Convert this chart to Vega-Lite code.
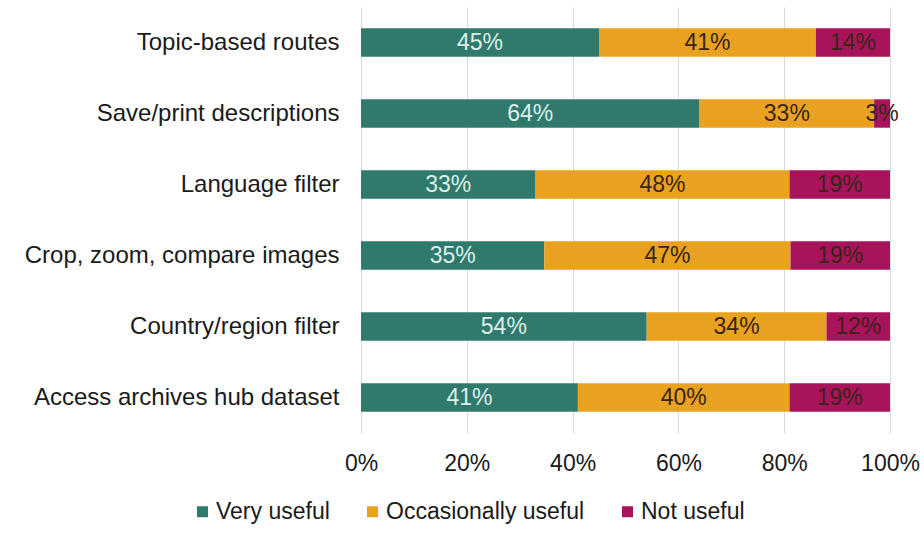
{
  "$schema": "https://vega.github.io/schema/vega-lite/v6.json",
  "autosize": {"type": "none"},
  "width": 529,
  "height": 426,
  "padding": {"left": 361, "top": 7, "right": 34, "bottom": 100},
  "background": "white",
  "config": {
    "view": {"stroke": null},
    "font": "Liberation Sans"
  },
  "data": {
    "values": [
      {"feature": "Topic-based routes", "status": "Very useful", "value": 45, "order": 1},
      {"feature": "Topic-based routes", "status": "Occasionally useful", "value": 41, "order": 2},
      {"feature": "Topic-based routes", "status": "Not useful", "value": 14, "order": 3},
      {"feature": "Save/print descriptions", "status": "Very useful", "value": 64, "order": 1},
      {"feature": "Save/print descriptions", "status": "Occasionally useful", "value": 33, "order": 2},
      {"feature": "Save/print descriptions", "status": "Not useful", "value": 3, "order": 3},
      {"feature": "Language filter", "status": "Very useful", "value": 33, "order": 1},
      {"feature": "Language filter", "status": "Occasionally useful", "value": 48, "order": 2},
      {"feature": "Language filter", "status": "Not useful", "value": 19, "order": 3},
      {"feature": "Crop, zoom, compare images", "status": "Very useful", "value": 35, "order": 1},
      {"feature": "Crop, zoom, compare images", "status": "Occasionally useful", "value": 47, "order": 2},
      {"feature": "Crop, zoom, compare images", "status": "Not useful", "value": 19, "order": 3},
      {"feature": "Country/region filter", "status": "Very useful", "value": 54, "order": 1},
      {"feature": "Country/region filter", "status": "Occasionally useful", "value": 34, "order": 2},
      {"feature": "Country/region filter", "status": "Not useful", "value": 12, "order": 3},
      {"feature": "Access archives hub dataset", "status": "Very useful", "value": 41, "order": 1},
      {"feature": "Access archives hub dataset", "status": "Occasionally useful", "value": 40, "order": 2},
      {"feature": "Access archives hub dataset", "status": "Not useful", "value": 19, "order": 3}
    ]
  },
  "transform": [
    {"stack": "value", "groupby": ["feature"], "sort": [{"field": "order"}], "offset": "normalize", "as": ["x0", "x1"]},
    {"calculate": "(datum.x0 + datum.x1) / 2", "as": "mid"},
    {"calculate": "datum.value + '%'", "as": "label"}
  ],
  "encoding": {
    "y": {
      "field": "feature",
      "type": "nominal",
      "sort": ["Topic-based routes", "Save/print descriptions", "Language filter", "Crop, zoom, compare images", "Country/region filter", "Access archives hub dataset"],
      "scale": {"paddingInner": 0.6, "paddingOuter": 0.3},
      "axis": {"title": null, "labelFontSize": 24, "labelLimit": 400, "labelColor": "#1a1a1a", "labelPadding": 22, "ticks": false, "domain": false, "grid": false}
    }
  },
  "layer": [
    {
      "mark": {"type": "bar"},
      "encoding": {
        "x": {
          "field": "x0", "type": "quantitative",
          "scale": {"domain": [0, 1], "nice": false},
          "axis": {"title": null, "format": "%", "values": [0, 0.2, 0.4, 0.6, 0.8, 1], "grid": true, "gridColor": "#d9d9d9", "gridWidth": 1, "domain": false, "ticks": false, "labelPadding": 19, "labelFontSize": 23, "labelColor": "#1a1a1a", "labelFlush": false}
        },
        "x2": {"field": "x1"},
        "color": {
          "field": "status", "type": "nominal",
          "scale": {"domain": ["Very useful", "Occasionally useful", "Not useful"], "range": ["#2f7a6d", "#e9a21f", "#a8145c"]},
          "legend": {
            "title": null, "orient": "none", "direction": "horizontal",
            "legendX": -170, "legendY": 493,
            "symbolType": "square", "symbolSize": 121, "symbolStrokeWidth": 0, "symbolOpacity": 1,
            "labelFontSize": 23, "labelLimit": 400, "labelColor": "#1a1a1a", "columnPadding": 31, "labelOffset": 2
          }
        }
      }
    },
    {
      "mark": {"type": "text", "fontSize": 23, "baseline": "middle", "align": "center"},
      "encoding": {
        "x": {"field": "mid", "type": "quantitative"},
        "text": {"field": "label"},
        "color": {
          "condition": {"test": "datum.status === 'Very useful'", "value": "#dcefea"},
          "value": "#3a2416"
        }
      }
    }
  ]
}
